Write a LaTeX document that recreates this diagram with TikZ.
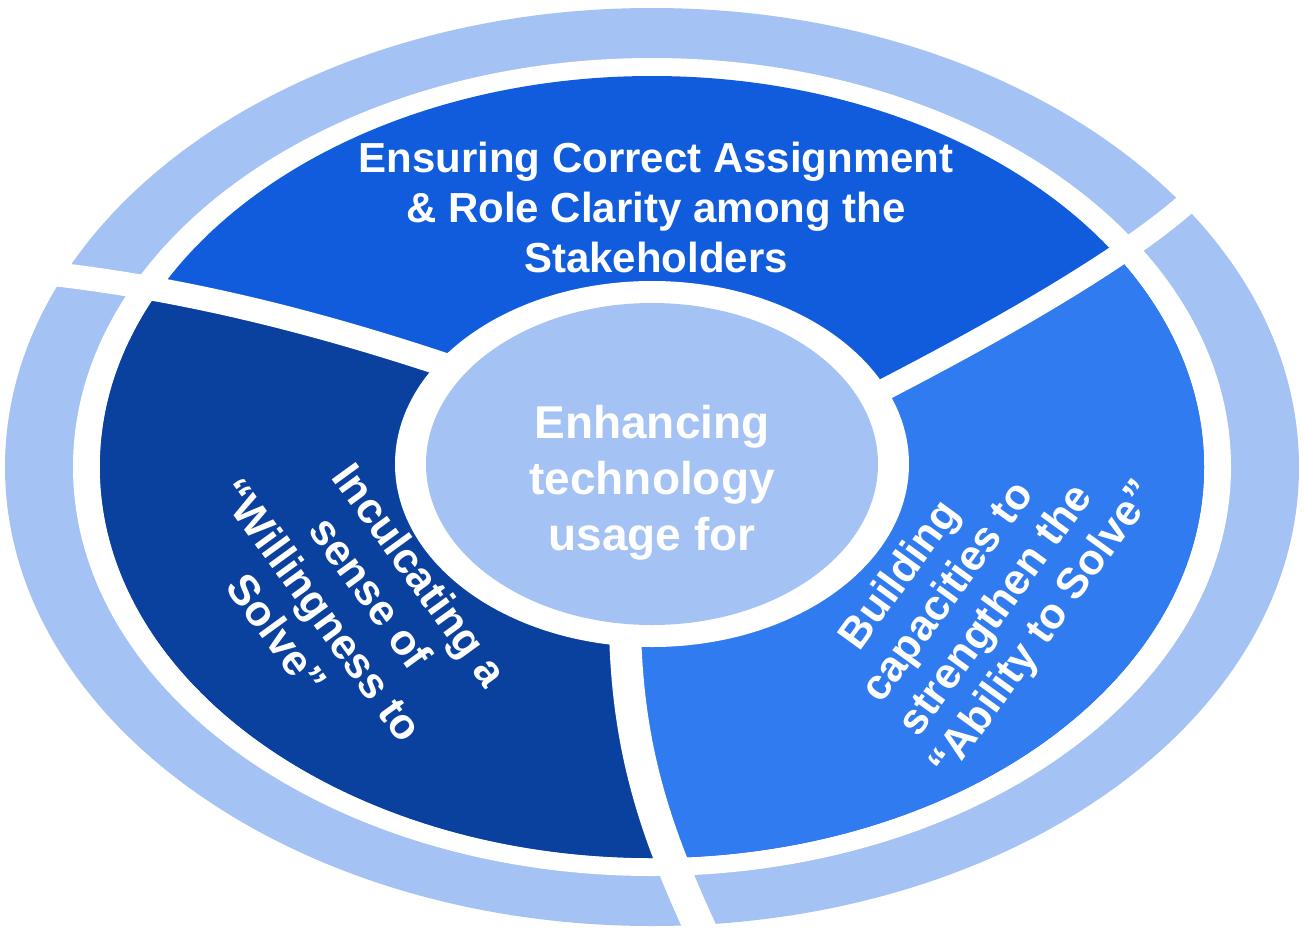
\documentclass[tikz,border=0pt]{standalone}
\usepackage{fontspec}
\setmainfont{Liberation Sans}
\definecolor{lightb}{HTML}{A4C2F4}
\definecolor{topb}{HTML}{105CDD}
\definecolor{darkb}{HTML}{0B419E}
\definecolor{midb}{HTML}{317BF0}
\tikzset{
  txt/.style={text=white, inner sep=0pt, font=\bfseries},
  sep/.style={draw=white, line width=#1},
  rline/.style={txt, anchor=center, text height=0.72em, text depth=0.2em,
    font=\bfseries\fontsize{43}{50}\selectfont}
}
\begin{document}
\begin{tikzpicture}[x=1pt,y=-1pt]
\useasboundingbox (0,0) rectangle (1304,932);
\fill[white] (0,0) rectangle (1304,932);
% outer light ring
\fill[lightb] (652,467) ellipse [x radius=647, y radius=459];
\fill[white] (652,467) ellipse [x radius=579, y radius=409];
% middle ring sectors
\begin{scope}
  \clip (652,467) ellipse [x radius=552, y radius=391];
  \fill[topb] (0,0) rectangle (1304,932);
  \fill[darkb] (652,464) -- (460,370) .. controls (300,316) and (150,280) .. (-10,268)
     -- (-10,960) -- (715,960) .. controls (660,845) and (628,760) .. (625,630) -- cycle;
  \fill[midb] (652,464) -- (625,630) .. controls (628,760) and (660,845) .. (715,960)
     -- (1330,960) -- (1330,160) -- (1215,175) .. controls (1157,244) and (985,338) .. (862,401) -- cycle;
\end{scope}
% separators
\coordinate (a0) at (460,370); \coordinate (a1) at (-10,268);
\coordinate (b0) at (862,401); \coordinate (b1) at (1215,175);
\coordinate (c0) at (625,630); \coordinate (c1) at (715,960);
\path[sep=24] (a0) .. controls (300,316) and (150,280) .. (a1);
\path[sep=22] (b0) .. controls (985,338) and (1157,244) .. (b1);
\path[sep=32] (c0) .. controls (628,760) and (660,845) .. (c1);
% centre
\fill[white] (652,464) ellipse [x radius=257, y radius=183];
\fill[lightb] (652,464) ellipse [x radius=226, y radius=161];
% top text
\node[txt, anchor=base, font=\bfseries\fontsize{42}{50}\selectfont] (t1) at (656,172) {Ensuring Correct Assignment};
\node[txt, anchor=base, font=\bfseries\fontsize{42}{50}\selectfont] (t2) at (656,222) {\& Role Clarity among the};
\node[txt, anchor=base, font=\bfseries\fontsize{42}{50}\selectfont] (t3) at (656,272) {Stakeholders};
% centre text
\node[txt, anchor=base, font=\bfseries\fontsize{46}{56}\selectfont] (c1) at (652,438) {Enhancing};
\node[txt, anchor=base, font=\bfseries\fontsize{46}{56}\selectfont] (c2) at (652,494) {technology};
\node[txt, anchor=base, font=\bfseries\fontsize{46}{56}\selectfont] (c3) at (652,550) {usage for};
% left text
\node[rline, rotate=-54] (l1) at (410,582) {Inculcating a};
\node[rline, rotate=-54] (l2) at (361,600) {sense of};
\node[rline, rotate=-54] (l3) at (311,617) {“Willingness to};
\node[rline, rotate=-54] (l4) at (267,641) {Solve”};
% right text
\node[rline, rotate=54] (r1) at (908,581) {Building};
\node[rline, rotate=54] (r2) at (956,598) {capacities to};
\node[rline, rotate=54] (r3) at (1004,616) {strengthen the};
\node[rline, rotate=54] (r4) at (1051,635) {“Ability to Solve”};
\end{tikzpicture}
\end{document}
